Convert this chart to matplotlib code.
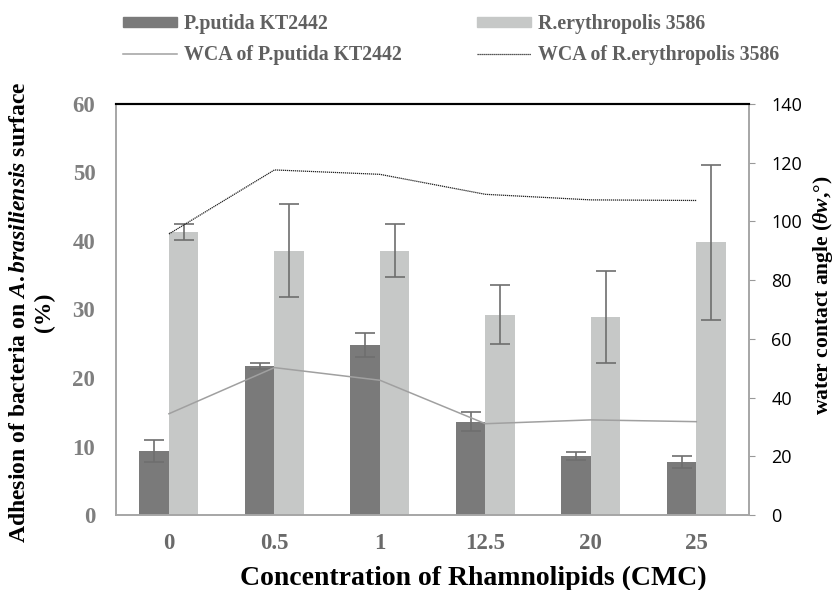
import numpy as np
import matplotlib
matplotlib.use("Agg")
import matplotlib.pyplot as plt
from matplotlib.patches import Patch
from matplotlib.lines import Line2D

plt.rcParams['mathtext.fontset'] = 'custom'
plt.rcParams['mathtext.rm'] = 'Liberation Serif:bold'
plt.rcParams['mathtext.it'] = 'Liberation Serif:italic:bold'
plt.rcParams['mathtext.bf'] = 'Liberation Serif:bold'

# data
conc = ['0', '0.5', '1', '12.5', '20', '25']
putida = [9.3, 21.8, 24.8, 13.6, 8.6, 7.7]
putida_err = [1.6, 0.45, 1.7, 1.4, 0.6, 0.85]
rhodo = [41.3, 38.6, 38.6, 29.2, 28.9, 39.8]
rhodo_err = [1.1, 6.8, 3.8, 4.3, 6.7, 11.3]
wca_putida = [34.5, 50.2, 45.9, 31.1, 32.4, 31.8]
wca_rhodo = [95.7, 117.5, 116.0, 109.2, 107.3, 107.1]

dark = '#7a7a7a'
light = '#c6c8c7'
serif = 'Liberation Serif'

fig = plt.figure(figsize=(8.36, 5.90), dpi=100)
ax = fig.add_axes([0.139, 0.127, 0.757, 0.697])
ax2 = ax.twinx()

x = np.arange(len(conc))
w = 0.28
ax.bar(x - w/2, putida, w, color=dark, yerr=putida_err, capsize=7,
       error_kw=dict(ecolor='#6e6e6e', elinewidth=1.2, capthick=1.2), zorder=2)
ax.bar(x + w/2, rhodo, w, color=light, yerr=rhodo_err, capsize=7,
       error_kw=dict(ecolor='#6e6e6e', elinewidth=1.2, capthick=1.2), zorder=2)

ax2.plot(x, wca_putida, color='#a0a0a0', lw=1.1)
ax2.plot(x, wca_rhodo, color='#222222', lw=0.9, ls=(0, (1, 0.6)))

ax.set_xlim(-0.5, 5.5)
ax.set_ylim(0, 60)
ax.set_yticks(range(0, 61, 10))
ax2.set_ylim(0, 140)
ax2.set_yticks(range(0, 141, 20))

ax.set_xticks(x)
ax.set_xticklabels(conc, fontfamily=serif, fontweight='bold', fontsize=16.5, color='#6a6a6a')
for lab in ax.get_yticklabels():
    lab.set_fontfamily(serif)
    lab.set_fontweight('bold')
    lab.set_fontsize(16.5)
    lab.set_color('#7f7f7f')
ax.tick_params(axis='y', length=0, pad=15)
ax.tick_params(axis='x', length=0, pad=13)
ax2.tick_params(axis='y', length=4, color='#999999', labelsize=13, pad=12)
for lab in ax2.get_yticklabels():
    lab.set_fontfamily('Open Sans')

for a in (ax, ax2):
    for s in ['left', 'bottom', 'right']:
        a.spines[s].set_color('#a6a6a6')
        a.spines[s].set_linewidth(1.2)
    a.spines['top'].set_color('black')
    a.spines['top'].set_linewidth(1.5)

fig.text(473/836, 1 - 578/590, 'Concentration of Rhamnolipids (CMC)', fontfamily=serif,
         fontweight='bold', fontsize=20, ha='center', va='center')
fig.text(32/836, 1 - 312/590,
         'Adhesion of bacteria on $\\mathit{A{.}brasiliensis}$ surface\n(%)',
         fontfamily=serif, fontweight='bold', fontsize=17, rotation=90,
         ha='center', va='center', linespacing=1.2, multialignment='center')
fig.text(823/836, 1 - 295/590, 'water contact angle ($\\mathit{\\theta w}$,°)', fontfamily=serif,
         fontweight='bold', fontsize=15.5, rotation=90, ha='center', va='center')

handles = [Patch(color=dark), Line2D([], [], color='#a0a0a0', lw=1.1),
           Patch(color=light), Line2D([], [], color='#222222', lw=0.9, ls=(0, (1, 0.6)))]
labels = ['P.putida KT2442', 'WCA of P.putida KT2442',
          'R.erythropolis 3586', 'WCA of R.erythropolis 3586']
leg = fig.legend(handles, labels, ncol=2, loc='upper left',
                 bbox_to_anchor=(123/836, 1 - 14/590), borderpad=0, borderaxespad=0,
                 frameon=False, prop=dict(family=serif, weight='bold', size=14.3),
                 handlelength=2.7, handleheight=0.45, handletextpad=0.35,
                 columnspacing=3.8, labelspacing=0.55)
for t in leg.get_texts():
    t.set_color('#606060')

fig.savefig('out.png', dpi=100)
